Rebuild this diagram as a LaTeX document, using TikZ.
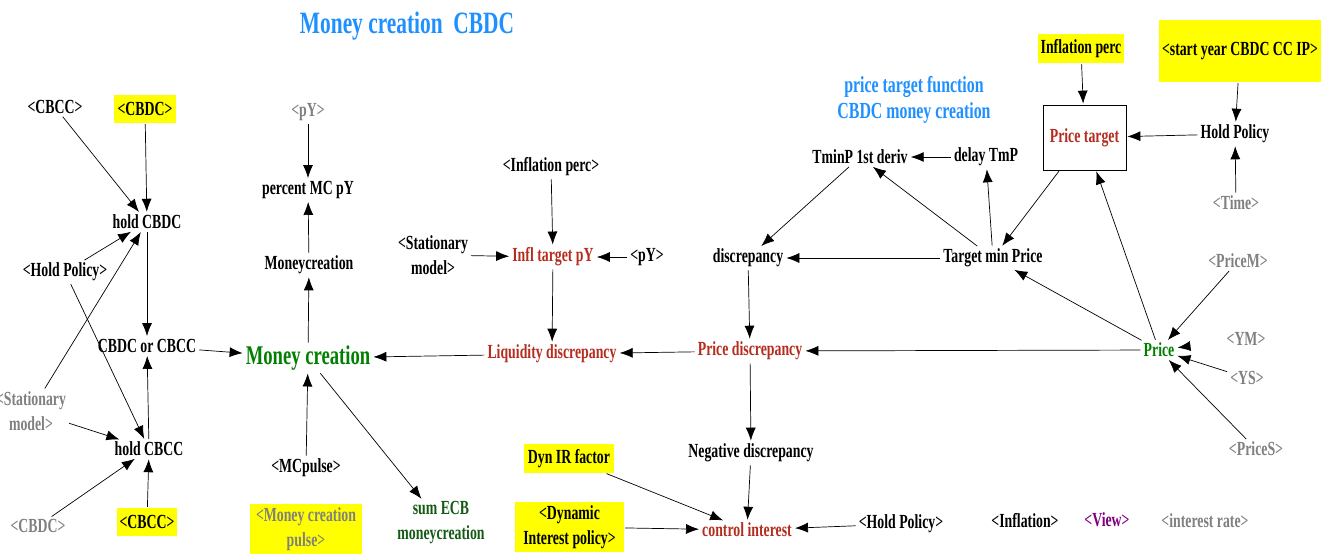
\documentclass[tikz,border=0pt]{standalone}
\usepackage{fontspec}
\setmainfont{Liberation Serif}[FakeStretch=0.69]
\usetikzlibrary{arrows.meta}
\definecolor{shadow}{RGB}{128,128,128}
\definecolor{aux}{RGB}{180,45,30}
\definecolor{lvl}{RGB}{0,128,0}
\definecolor{dgreen}{RGB}{20,90,20}
\definecolor{ttl}{RGB}{30,144,255}
\definecolor{vw}{RGB}{128,0,128}
\definecolor{hy}{RGB}{255,255,0}
\begin{document}
\begin{tikzpicture}[x=1pt,y=-1pt,
  v/.style={font=\fontsize{20}{25}\selectfont\bfseries, inner sep=2pt, align=center},
  gv/.style={v, text=shadow},
  rv/.style={v, text=aux},
  hl/.style={fill=hy, inner sep=3pt},
  big/.style={font=\fontsize{27}{30}\selectfont\bfseries, inner sep=2pt},
  arr/.style={-{Latex[length=13pt,width=10pt]}, line width=0.7pt, shorten >=1pt, shorten <=1pt}
]
\useasboundingbox (0,0) rectangle (1333,554);

% titles
\node[big, text=ttl, font=\fontsize{31}{34}\selectfont\bfseries] (title) at (407,26) {Money creation\ \ CBDC};
\node[v, text=ttl, font=\fontsize{23}{26}\selectfont\bfseries] (ptitle) at (914,100) {price target function\\CBDC money creation};

% left cluster
\node[v] (cbcc1) at (55,107) {<CBCC>};
\node[v, hl, minimum width=62pt, minimum height=28pt] (cbdc1) at (145,109) {<CBDC>};
\node[v] (holdcbdc) at (147,222) {hold CBDC};
\node[v] (holdpol1) at (65,272) {<Hold Policy>};
\node[v] (orcc) at (147,346) {CBDC or CBCC};
\node[gv] (stat1) at (31,411) {<Stationary\\model>};
\node[v] (holdcbcc) at (149,449) {hold CBCC};
\node[gv] (cbdc2) at (38,526) {<CBDC>};
\node[v, hl, minimum width=60pt, minimum height=28pt] (cbcc2) at (147,522) {<CBCC>};

% money creation cluster
\node[big, text=lvl] (mc) at (308,358) {Money creation};
\node[gv] (py1) at (308,112) {<pY>};
\node[v] (pct) at (308,190) {percent MC pY};
\node[v] (mcr) at (309,265) {Moneycreation};
\node[v] (mcpulse) at (306,468) {<MCpulse>};
\node[gv, hl, minimum width=112pt, minimum height=51pt] (mcp2) at (306,529) {<Money creation\\pulse>};
\node[v, text=dgreen] (sumecb) at (441,523) {sum ECB\\moneycreation};

% inflation target cluster
\node[v] (stat2) at (433,255) {<Stationary\\model>};
\node[v] (inflp1) at (551,167) {<Inflation perc>};
\node[rv] (infltg) at (553,257) {Infl target pY};
\node[v] (py2) at (647,257) {<pY>};
\node[rv] (liq) at (552,354) {Liquidity discrepancy};
\node[rv] (pdisc) at (750,351) {Price discrepancy};
\node[v] (disc) at (748,258) {discrepancy};
\node[v] (tminp) at (860,157) {TminP 1st deriv};
\node[v] (delay) at (986,157) {delay TmP};
\node[v] (tmp) at (993,258) {Target min Price};

% price target cluster
\node[rv, draw=black, line width=0.7pt, fill=white, minimum width=83pt, minimum height=65pt] (ptarget) at (1084.5,137.5) {Price target};
\node[v, hl, minimum width=85pt, minimum height=29pt] (inflp2) at (1081,48.5) {Inflation perc};
\node[v, hl, minimum width=162pt, minimum height=62pt] (start) at (1240,51) {<start year CBDC CC IP>};
\node[v] (holdpol) at (1235,134) {Hold Policy};
\node[gv] (time) at (1236,203) {<Time>};
\node[gv] (pricem) at (1238,261) {<PriceM>};
\node[v, text=lvl] (price) at (1159,350) {Price};
\node[gv] (ym) at (1246,339) {<YM>};
\node[gv] (ys) at (1247,378) {<YS>};
\node[gv] (prices) at (1256,449) {<PriceS>};

% interest cluster
\node[v] (negdisc) at (751,453) {Negative discrepancy};
\node[v, hl, minimum width=90pt, minimum height=29pt] (dynir) at (569,458.5) {Dyn IR factor};
\node[v, hl, minimum width=109pt, minimum height=49pt] (dynpol) at (569.5,527) {<Dynamic\\Interest policy>};
\node[rv] (ctrl) at (747,530) {control interest};
\node[v] (holdpol3) at (901,524) {<Hold Policy>};

% legend-like
\node[v] (infl) at (1025,521) {<Inflation>};
\node[v, text=vw] (view) at (1107,520) {<View>};
\node[gv] (irate) at (1205,521) {<interest rate>};

% connectors
\draw[arr] (cbcc1) -- (holdcbdc);
\draw[arr] (cbdc1) -- (holdcbdc);
\draw[arr] (holdpol1) -- (holdcbdc);
\draw[arr] (stat1) -- (holdcbdc);
\draw[arr] (holdpol1) -- (holdcbcc);
\draw[arr] (holdcbdc) -- (orcc);
\draw[arr] (holdcbcc) -- (orcc);
\draw[arr] (stat1) -- (holdcbcc);
\draw[arr] (cbdc2) -- (holdcbcc);
\draw[arr] (cbcc2) -- (holdcbcc);
\draw[arr] (orcc) -- (mc);
\draw[arr] (mc) -- (mcr);
\draw[arr] (mcr) -- (pct);
\draw[arr] (py1) -- (pct);
\draw[arr] (mcpulse) -- (mc);
\draw[arr] (mc) -- (sumecb);
\draw[arr] (liq) -- (mc);
\draw[arr] (inflp1) -- (infltg);
\draw[arr] (stat2) -- (infltg);
\draw[arr] (py2) -- (infltg);
\draw[arr] (infltg) -- (liq);
\draw[arr] (pdisc) -- (liq);
\draw[arr] (price) -- (pdisc);
\draw[arr] (disc) -- (pdisc);
\draw[arr] (tmp) -- (disc);
\draw[arr] (tminp) -- (disc);
\draw[arr] (tmp) -- (tminp);
\draw[arr] (tmp) -- (delay);
\draw[arr] (delay) -- (tminp);
\draw[arr] (ptarget) -- (tmp);
\draw[arr] (price) -- (tmp);
\draw[arr] (price) -- (ptarget);
\draw[arr] (inflp2) -- (ptarget);
\draw[arr] (holdpol) -- (ptarget);
\draw[arr] (start) -- (holdpol);
\draw[arr] (time) -- (holdpol);
\draw[arr] (pricem) -- (price);
\draw[arr, shorten <=38pt] (ym) -- (price);
\draw[arr] (ys) -- (price);
\draw[arr] (prices) -- (price);
\draw[arr] (pdisc) -- (negdisc);
\draw[arr] (negdisc) -- (ctrl);
\draw[arr] (dynir) -- (ctrl);
\draw[arr] (dynpol) -- (ctrl);
\draw[arr] (holdpol3) -- (ctrl);
\end{tikzpicture}
\end{document}
